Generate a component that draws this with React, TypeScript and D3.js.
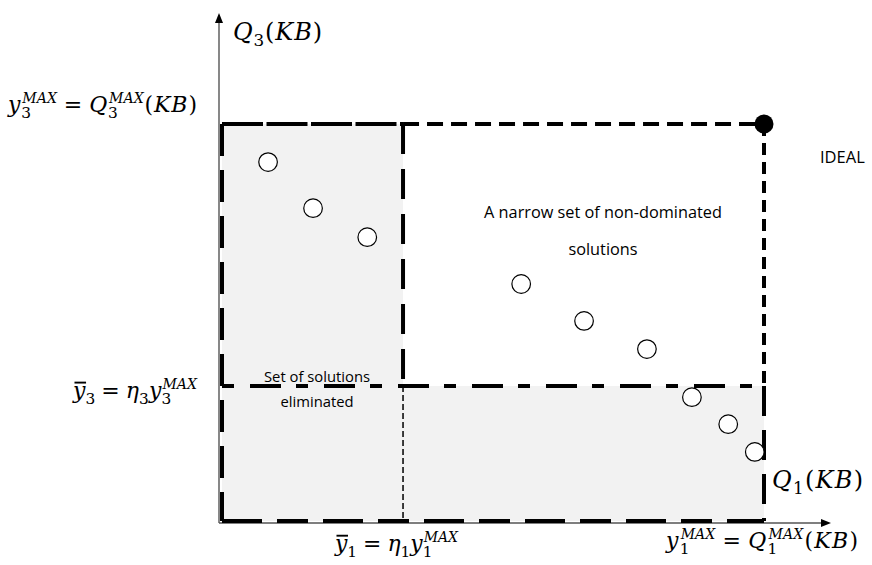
import React, { useEffect, useRef } from "react";
import * as d3 from "d3";

// ---- data (normalised objective values, y^MAX = 1) ----
const solutionQ1 = [0.085, 0.168, 0.268, 0.552, 0.668, 0.784, 0.867, 0.934, 0.983];
const solutionQ3 = [0.904, 0.788, 0.715, 0.597, 0.504, 0.433, 0.312, 0.244, 0.174];
const idealPoint = [1, 1];
const eta1 = 0.334;
const eta3 = 0.34;
const regionLabels = ["Set of solutions", "eliminated"];
const frontLabels = ["A narrow set of non-dominated", "solutions"];
const idealLabel = "IDEAL";

const W = 872;
const H = 565;
const MATH_FONT = "'DejaVu Serif', serif";
const SANS = "'Open Sans', sans-serif";

type Tok = { b?: string; it?: boolean; pad?: number; bar?: boolean; sub?: string; sup?: string };

function measure(g: any, txt: string, size: number, italic: boolean) {
  const el = g
    .append("text")
    .attr("font-family", MATH_FONT)
    .attr("font-size", size)
    .attr("font-style", italic ? "italic" : "normal")
    .text(txt);
  const w = (el.node() as SVGTextElement).getComputedTextLength();
  el.remove();
  return w;
}

function mathLabel(g: any, toks: Tok[], x0: number, y0: number, fsNominal: number, target: number) {
  const build = (fs: number) =>
    toks.map((t) => {
      if (t.b !== undefined) {
        return {
          t,
          w: measure(g, t.b, fs, !!t.it),
          pad: t.pad || 0,
        };
      }
      const ws = t.sub ? measure(g, t.sub, fs * 0.7, false) : 0;
      const wp = t.sup ? measure(g, t.sup, fs * 0.64, true) + 1 : 0;
      return { t, w: Math.max(ws, wp), pad: 0 };
    });
  let fs = fsNominal;
  let items = build(fs);
  let natural = items.reduce((s, it) => s + it.w + 2 * it.pad, 0);
  if (natural > target) {
    fs = fs * (target - 12) / (natural - 12);
    items = build(fs);
    natural = items.reduce((s, it) => s + it.w + 2 * it.pad, 0);
  }
  const gap = Math.max(0, items.length > 1 ? (target - natural) / (items.length - 1) : 0);
  const text = g.append("text").attr("font-family", MATH_FONT).attr("fill", "#000");
  let cx = x0;
  items.forEach((it) => {
    const t = it.t;
    cx += it.pad;
    if (t.b !== undefined) {
      text
        .append("tspan")
        .attr("x", cx)
        .attr("y", y0)
        .attr("font-size", fs)
        .attr("font-style", t.it ? "italic" : "normal")
        .text(t.b);
      if (t.bar) {
        g.append("line")
          .attr("x1", cx + it.w * 0.12)
          .attr("x2", cx + it.w * 1.05)
          .attr("y1", y0 - fs * 0.7)
          .attr("y2", y0 - fs * 0.7)
          .attr("stroke", "#000")
          .attr("stroke-width", 1.9);
      }
    } else {
      if (t.sub)
        text
          .append("tspan")
          .attr("x", cx)
          .attr("y", y0 + fs * 0.27)
          .attr("font-size", fs * 0.7)
          .attr("font-style", "normal")
          .text(t.sub);
      if (t.sup)
        text
          .append("tspan")
          .attr("x", cx + 1)
          .attr("y", y0 - fs * 0.42)
          .attr("font-size", fs * 0.64)
          .attr("font-style", "italic")
          .text(t.sup);
    }
    cx += it.w + it.pad + gap;
  });
}

export default function App() {
  const ref = useRef<SVGSVGElement>(null);

  const x = d3.scaleLinear().domain([0, 1]).range([222, 764]);
  const y = d3.scaleLinear().domain([0, 1]).range([521, 124]);

  const x0 = x(0), x1 = x(idealPoint[0]), xe = x(eta1);
  const y0 = y(0), y1 = y(idealPoint[1]), ye = y(eta3);

  const axisX = x0 - 3;
  const axisY = y0 + 2;

  const dashed = [
    { a: [x0, y1], b: [xe, y1], d: "41 3.5", w: 4 },
    { a: [xe, y1], b: [x1, y1], d: "16 8", w: 4 },
    { a: [x0, y1], b: [x0, y0], d: "32 14", w: 4 },
    { a: [xe, y1], b: [xe, ye], d: "30 15", w: 4 },
    { a: [x0, ye], b: [x1, ye], d: "12 16 31 15", w: 4 },
    { a: [x1, y1], b: [x1, ye], d: "12 7", w: 4 },
    { a: [x1, ye], b: [x1, y0], d: "30 14", w: 4 },
    { a: [x0, y0], b: [x1, y0], d: "40 15 31 15", w: 4 },
    { a: [xe, ye], b: [xe, y0], d: "6 3", w: 1.5 },
  ];

  useEffect(() => {
    const svg = d3.select(ref.current);
    const g = svg.select<SVGGElement>("g.math");
    g.selectAll("*").remove();
    const fs = 22;
    mathLabel(g, [{ b: "Q", it: true }, { sub: "3" }, { b: "(" }, { b: "K", it: true }, { b: "B", it: true }, { b: ")" }], 233, 40, 24, 89);
    mathLabel(
      g,
      [{ b: "y", it: true }, { sub: "3", sup: "MAX" }, { b: "=", pad: 6 }, { b: "Q", it: true }, { sub: "3", sup: "MAX" }, { b: "(" }, { b: "K", it: true }, { b: "B", it: true }, { b: ")" }],
      8, 112, fs, 189
    );
    mathLabel(
      g,
      [{ b: "y", it: true, bar: true }, { sub: "3" }, { b: "=", pad: 6 }, { b: "η", it: true }, { sub: "3" }, { b: "y", it: true }, { sub: "3", sup: "MAX" }],
      73, 398, fs, 124
    );
    mathLabel(
      g,
      [{ b: "y", it: true, bar: true }, { sub: "1" }, { b: "=", pad: 6 }, { b: "η", it: true }, { sub: "1" }, { b: "y", it: true }, { sub: "1", sup: "MAX" }],
      335, 551, fs, 123
    );
    mathLabel(g, [{ b: "Q", it: true }, { sub: "1" }, { b: "(" }, { b: "K", it: true }, { b: "B", it: true }, { b: ")" }], 772, 488, 24, 91);
    mathLabel(
      g,
      [{ b: "y", it: true }, { sub: "1", sup: "MAX" }, { b: "=", pad: 6 }, { b: "Q", it: true }, { sub: "1", sup: "MAX" }, { b: "(" }, { b: "K", it: true }, { b: "B", it: true }, { b: ")" }],
      666, 548, fs, 192
    );
  }, []);

  return (
    <svg
      ref={ref}
      width={W}
      height={H}
      style={{ position: "absolute", left: 0, top: 0, background: "#fff" }}
    >
      {/* shaded eliminated regions */}
      <rect x={x0} y={y1} width={xe - x0} height={y0 - y1} fill="#f2f2f2" />
      <rect x={xe} y={ye} width={x1 - xe} height={y0 - ye} fill="#f2f2f2" />

      {/* axes */}
      <line x1={axisX} y1={axisY} x2={axisX} y2={22} stroke="#555" strokeWidth={1.4} />
      <polygon points={`${axisX},13 ${axisX - 4},23 ${axisX + 4},23`} fill="#000" />
      <line x1={axisX} y1={axisY} x2={822} y2={axisY} stroke="#555" strokeWidth={1.4} />
      <polygon points={`831,${axisY} 821,${axisY - 4} 821,${axisY + 4}`} fill="#000" />

      {/* dashed boundaries */}
      {dashed.map((l, i) => (
        <line
          key={i}
          x1={l.a[0]}
          y1={l.a[1]}
          x2={l.b[0]}
          y2={l.b[1]}
          stroke="#000"
          strokeWidth={l.w}
          strokeDasharray={l.d}
        />
      ))}

      {/* solutions */}
      {solutionQ1.map((v, i) => (
        <circle key={i} cx={x(v)} cy={y(solutionQ3[i])} r={9.3} fill="#fff" stroke="#000" strokeWidth={1.2} />
      ))}
      <circle cx={x(idealPoint[0])} cy={y(idealPoint[1])} r={9.5} fill="#000" />

      {/* text labels */}
      <text x={820} y={163} fontFamily={SANS} fontSize={16.5} fill="#000">
        {idealLabel}
      </text>
      <text x={603} y={218} fontFamily={SANS} fontSize={16.3} textAnchor="middle" fill="#000">
        {frontLabels[0]}
      </text>
      <text x={603} y={255} fontFamily={SANS} fontSize={16.3} textAnchor="middle" fill="#000">
        {frontLabels[1]}
      </text>
      <text x={317} y={382} fontFamily={SANS} fontSize={14.8} textAnchor="middle" fill="#000">
        {regionLabels[0]}
      </text>
      <text x={317} y={407} fontFamily={SANS} fontSize={14.8} textAnchor="middle" fill="#000">
        {regionLabels[1]}
      </text>

      <g className="math" />
    </svg>
  );
}
